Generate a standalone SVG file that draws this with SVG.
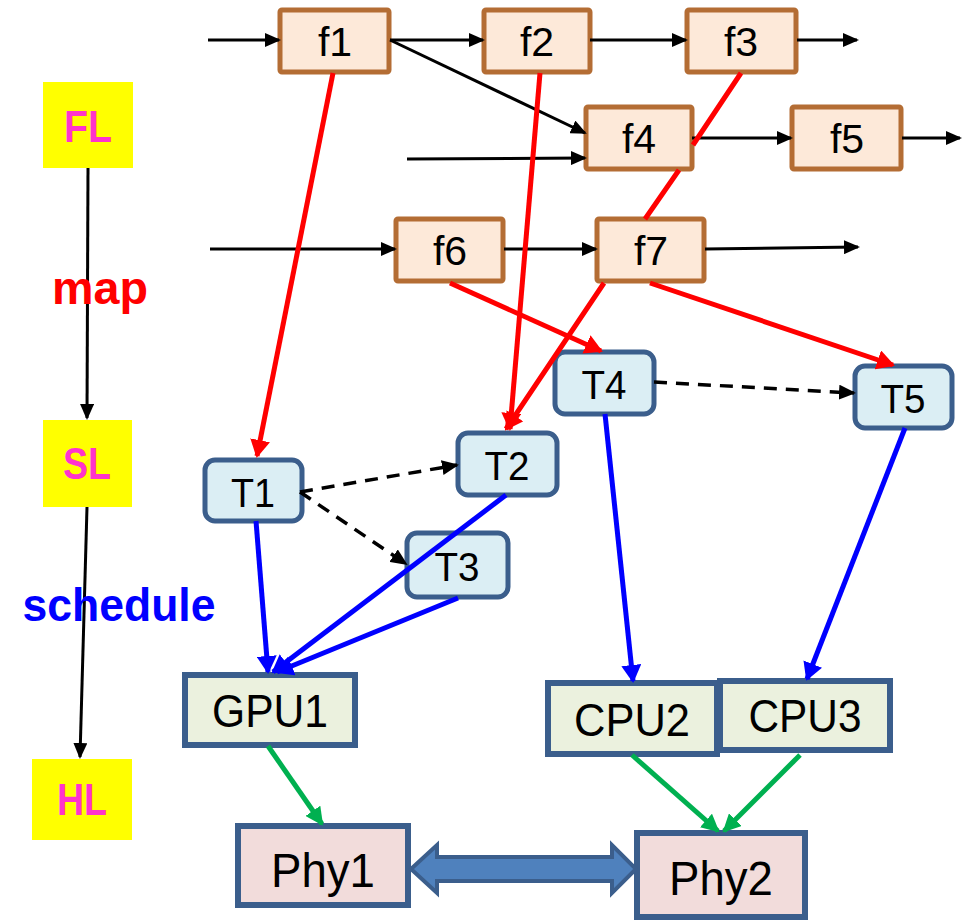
<svg xmlns="http://www.w3.org/2000/svg" width="967" height="920" viewBox="0 0 967 920">
  <style>
    .fbox { fill: #fde9d9; stroke: #b46d34; stroke-width: 5; }
    .tbox { fill: #dbeef4; stroke: #3b5e8c; stroke-width: 5; }
    .hw { fill: #ebf1de; stroke: #3b5e8c; stroke-width: 6; }
    .phy { fill: #f2dcdb; stroke: #3b5e8c; stroke-width: 6; }
    .layer { fill: #ffff00; }
    .lbl { font-family: "Liberation Sans", Arial, sans-serif; fill: #000; text-anchor: middle; }
    .lyr { font-family: "Liberation Sans", Arial, sans-serif; font-weight: bold; fill: #ff33cc; text-anchor: middle; font-size: 44px; }
    .flow { fill: none; stroke: #000; stroke-width: 3; marker-end: url(#hBlack); }
    .dep { fill: none; stroke: #000; stroke-width: 3.5; stroke-dasharray: 13 9; marker-end: url(#hDash); }
    .map { fill: none; stroke: #ff0000; stroke-width: 5; marker-end: url(#hRed); }
    .sched { fill: none; stroke: #0000ff; stroke-width: 5; marker-end: url(#hBlue); }
    .bind { fill: none; stroke: #00b050; stroke-width: 5; marker-end: url(#hGreen); }
  </style>
  <defs>
    <marker id="hBlack" markerUnits="userSpaceOnUse" markerWidth="16" markerHeight="14" refX="14" refY="7" orient="auto">
      <path d="M0,0 L16,7 L0,14 Z" fill="#000"/>
    </marker>
    <marker id="hDash" markerUnits="userSpaceOnUse" markerWidth="17" markerHeight="15" refX="15" refY="7.5" orient="auto">
      <path d="M0,0 L17,7.5 L0,15 Z" fill="#000"/>
    </marker>
    <marker id="hRed" markerUnits="userSpaceOnUse" markerWidth="18" markerHeight="20" refX="16" refY="10" orient="auto">
      <path d="M0,0 L18,10 L0,20 Z" fill="#ff0000"/>
    </marker>
    <marker id="hBlue" markerUnits="userSpaceOnUse" markerWidth="18" markerHeight="20" refX="16" refY="10" orient="auto">
      <path d="M0,0 L18,10 L0,20 Z" fill="#0000ff"/>
    </marker>
    <marker id="hGreen" markerUnits="userSpaceOnUse" markerWidth="18" markerHeight="18" refX="16" refY="9" orient="auto">
      <path d="M0,0 L18,9 L0,18 Z" fill="#00b050"/>
    </marker>
  </defs>

  <rect width="967" height="920" fill="#ffffff"/>

  <!-- layer legend -->
  <g id="FL"><rect class="layer" x="43" y="82" width="90" height="86"/><text class="lyr" x="88" y="142" textLength="48" lengthAdjust="spacingAndGlyphs">FL</text></g>
  <g id="SL"><rect class="layer" x="43" y="420" width="89" height="87"/><text class="lyr" x="87" y="479" textLength="48" lengthAdjust="spacingAndGlyphs">SL</text></g>
  <g id="HL"><rect class="layer" x="32" y="759" width="100" height="81"/><text class="lyr" x="82" y="815" textLength="50" lengthAdjust="spacingAndGlyphs">HL</text></g>

  <!-- functions -->
  <g id="f1"><rect class="fbox" x="280" y="10" width="109" height="62" rx="2"/><text class="lbl" x="335" y="56" font-size="41">f1</text></g>
  <g id="f2"><rect class="fbox" x="484" y="10" width="106" height="62" rx="2"/><text class="lbl" x="537" y="56" font-size="41">f2</text></g>
  <g id="f3"><rect class="fbox" x="687" y="10" width="109" height="62" rx="2"/><text class="lbl" x="741" y="56" font-size="41">f3</text></g>
  <g id="f4"><rect class="fbox" x="586" y="107" width="106" height="62" rx="2"/><text class="lbl" x="639" y="153" font-size="41">f4</text></g>
  <g id="f5"><rect class="fbox" x="792" y="107" width="109" height="62" rx="2"/><text class="lbl" x="847" y="153" font-size="41">f5</text></g>
  <g id="f6"><rect class="fbox" x="396" y="219" width="107" height="62" rx="2"/><text class="lbl" x="450" y="265" font-size="41">f6</text></g>
  <g id="f7"><rect class="fbox" x="597" y="219" width="107" height="62" rx="2"/><text class="lbl" x="651" y="265" font-size="41">f7</text></g>

  <!-- tasks -->
  <g id="T1"><rect class="tbox" x="205" y="460" width="97" height="61" rx="10"/><text class="lbl" x="253" y="507" font-size="41" textLength="44" lengthAdjust="spacingAndGlyphs">T1</text></g>
  <g id="T2"><rect class="tbox" x="458" y="433" width="99" height="62" rx="10"/><text class="lbl" x="507" y="480" font-size="41" textLength="45" lengthAdjust="spacingAndGlyphs">T2</text></g>
  <g id="T3"><rect class="tbox" x="407" y="533" width="101" height="64" rx="10"/><text class="lbl" x="457" y="581" font-size="41" textLength="45" lengthAdjust="spacingAndGlyphs">T3</text></g>
  <g id="T4"><rect class="tbox" x="555" y="352" width="99" height="62" rx="10"/><text class="lbl" x="604" y="399" font-size="41" textLength="45" lengthAdjust="spacingAndGlyphs">T4</text></g>
  <g id="T5"><rect class="tbox" x="855" y="366" width="97" height="62" rx="10"/><text class="lbl" x="903" y="413" font-size="41" textLength="45" lengthAdjust="spacingAndGlyphs">T5</text></g>

  <!-- hardware -->
  <g id="GPU1"><rect class="hw" x="185" y="675" width="170" height="70"/><text class="lbl" x="270" y="727" font-size="46" textLength="116" lengthAdjust="spacingAndGlyphs">GPU1</text></g>
  <g id="CPU2"><rect class="hw" x="548" y="683" width="169" height="71"/><text class="lbl" x="632" y="736" font-size="46" textLength="116" lengthAdjust="spacingAndGlyphs">CPU2</text></g>
  <g id="CPU3"><rect class="hw" x="720" y="681" width="170" height="69"/><text class="lbl" x="805" y="732" font-size="46" textLength="113" lengthAdjust="spacingAndGlyphs">CPU3</text></g>
  <g id="Phy1"><rect class="phy" x="238" y="826" width="170" height="79"/><text class="lbl" x="323" y="887" font-size="48" textLength="104" lengthAdjust="spacingAndGlyphs">Phy1</text></g>
  <g id="Phy2"><rect class="phy" x="637" y="833" width="168" height="84"/><text class="lbl" x="721" y="895" font-size="48" textLength="104" lengthAdjust="spacingAndGlyphs">Phy2</text></g>

  <g id="connectors">
    <!-- layer transitions -->
    <line class="flow" x1="88" y1="168" x2="87" y2="418"/>
    <line class="flow" x1="87" y1="507" x2="80" y2="757"/>
    <text x="100" y="304" font-family="Liberation Sans, Arial, sans-serif" font-weight="bold" font-size="46" fill="#ff0000" text-anchor="middle" textLength="96" lengthAdjust="spacingAndGlyphs">map</text>
    <text x="119" y="621" font-family="Liberation Sans, Arial, sans-serif" font-weight="bold" font-size="46" fill="#0000ff" text-anchor="middle" textLength="193" lengthAdjust="spacingAndGlyphs">schedule</text>

    <!-- function data flow -->
    <line class="flow" x1="208" y1="40" x2="279" y2="40"/>
    <line class="flow" x1="390" y1="40" x2="483" y2="40"/>
    <line class="flow" x1="590" y1="40" x2="686" y2="40"/>
    <line class="flow" x1="797" y1="40" x2="857" y2="40"/>
    <line class="flow" x1="390" y1="40" x2="585" y2="133"/>
    <line class="flow" x1="407" y1="159" x2="585" y2="158"/>
    <line class="flow" x1="692" y1="138" x2="791" y2="138"/>
    <line class="flow" x1="902" y1="138" x2="960" y2="138"/>
    <line class="flow" x1="210" y1="249" x2="395" y2="249"/>
    <line class="flow" x1="504" y1="249" x2="596" y2="249"/>
    <line class="flow" x1="705" y1="249" x2="858" y2="247"/>

    <!-- mapping -->
    <line class="map" x1="333" y1="73" x2="257" y2="456"/>
    <line class="map" x1="540" y1="73" x2="510" y2="429"/>
    <path class="map" d="M741,73 L693,145 M679,170 L645,219 M604,283 L506,429"/>
    <line class="map" x1="450" y1="283" x2="601" y2="351"/>
    <line class="map" x1="650" y1="283" x2="893" y2="365"/>

    <!-- task dependencies -->
    <line class="dep" x1="300" y1="492" x2="457" y2="465"/>
    <line class="dep" x1="300" y1="492" x2="406" y2="564"/>
    <line class="dep" x1="654" y1="382" x2="854" y2="393"/>

    <!-- scheduling -->
    <line class="sched" x1="256" y1="521" x2="268" y2="672"/>
    <line class="sched" x1="506" y1="495" x2="273" y2="672"/>
    <line class="sched" x1="458" y1="598" x2="277" y2="672"/>
    <line class="sched" x1="605" y1="414" x2="633" y2="681"/>
    <line class="sched" x1="905" y1="428" x2="807" y2="679"/>

    <!-- hardware binding -->
    <line class="bind" x1="268" y1="746" x2="322" y2="824"/>
    <line class="bind" x1="632" y1="755" x2="718" y2="831"/>
    <line class="bind" x1="800" y1="755" x2="724" y2="831"/>

    <!-- physical link -->
    <polygon points="411,869 437,845 437,857 612,857 612,845 636,869 612,893 612,881 437,881 437,893" fill="#4f81bd" stroke="#3b5e8c" stroke-width="4" stroke-linejoin="miter"/>
  </g>
</svg>
